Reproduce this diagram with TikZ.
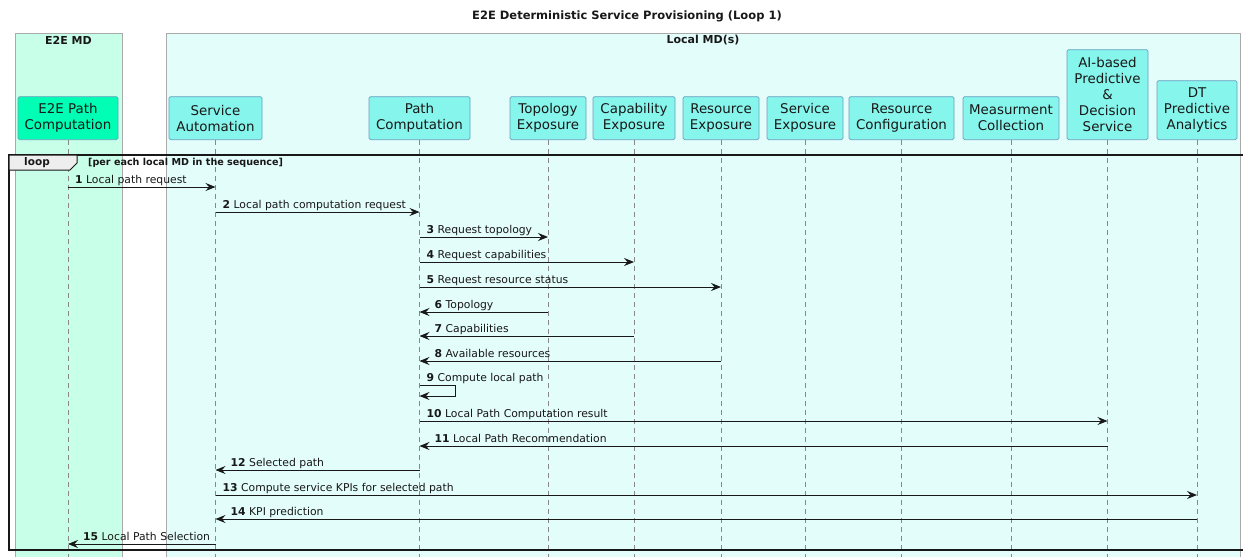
\documentclass[tikz,border=0pt]{standalone}
\usepackage{fontspec}
\setmainfont{DejaVu Sans}
\usetikzlibrary{arrows.meta}
\definecolor{grpA}{HTML}{C8FFE8}
\definecolor{grpB}{HTML}{E3FDFB}
\definecolor{partB}{HTML}{86F5EC}
\definecolor{partA}{HTML}{00FFB4}
\definecolor{partline}{HTML}{6A9FBF}
\definecolor{grpline}{HTML}{AAAAAA}
\definecolor{ink}{HTML}{181818}
\definecolor{lifegray}{HTML}{888888}
\definecolor{tabfill}{HTML}{EEEEEE}
\newcommand\msgR[5]{%
  \draw[msg] (#1 |- 0,#3) -- (#2 |- 0,#3);
  \node[lbl, anchor=base west, xshift=7pt, yshift=4pt] (l#4) at (#1 |- 0,#3) {\textbf{#4} #5};}
\newcommand\msgL[5]{%
  \draw[msg] (#1 |- 0,#3) -- (#2 |- 0,#3);
  \node[lbl, anchor=base west, xshift=15pt, yshift=4pt] (l#4) at (#2 |- 0,#3) {\textbf{#4} #5};}
\begin{document}
\begin{tikzpicture}[x=1pt,y=-1pt,
  part/.style={draw=partline, fill=partB, rounded corners=1.5pt, anchor=south, align=center,
    font=\fontsize{13.4}{16}\selectfont, inner sep=0pt, line width=0.7pt, text=ink},
  grp/.style={draw=grpline, line width=0.8pt},
  lifeline/.style={draw=lifegray, dash pattern=on 5pt off 4pt, line width=0.7pt},
  msg/.style={draw=ink, line width=0.9pt, -{Stealth[length=10pt,width=8pt,inset=3.5pt]}},
  lbl/.style={font=\fontsize{10.8}{12}\selectfont, inner sep=0pt, text=ink},
  hdr/.style={font=\fontsize{11}{12}\selectfont\bfseries, text=ink}]
\useasboundingbox (0,0) rectangle (1243,557);
\fill[white] (0,0) rectangle (1243,557);
% title
\node[font=\fontsize{11.5}{13}\selectfont\bfseries, text=ink] (title) at (627,16) {E2E Deterministic Service Provisioning (Loop 1)};
% groups
\path[grp, fill=grpA] (15,33) rectangle (122,565);
\path[grp, fill=grpB] (166,33) rectangle (1240,565);
\node[hdr] (g1) at (68.5,40) {E2E MD};
\node[hdr] (g2) at (703,40) {Local MD(s)};
% participants
\node[part, fill=partA, minimum width=100pt, minimum height=43pt] (e2e) at (68,140) {E2E Path\\Computation};
\node[part, minimum width=93pt, minimum height=43pt] (sa) at (215.5,140) {Service\\Automation};
\node[part, minimum width=101pt, minimum height=43pt] (pc) at (419.5,140) {Path\\Computation};
\node[part, minimum width=76pt, minimum height=43pt] (te) at (548,140) {Topology\\Exposure};
\node[part, minimum width=82pt, minimum height=43pt] (ce) at (634,140) {Capability\\Exposure};
\node[part, minimum width=76pt, minimum height=43pt] (re) at (721,140) {Resource\\Exposure};
\node[part, minimum width=76pt, minimum height=43pt] (se) at (805,140) {Service\\Exposure};
\node[part, minimum width=105pt, minimum height=43pt] (rc) at (901.5,140) {Resource\\Configuration};
\node[part, minimum width=96pt, minimum height=43pt] (mc) at (1011,140) {Measurment\\Collection};
\node[part, minimum width=81pt, minimum height=90pt] (ai) at (1107.5,140) {AI-based\\Predictive\\\&\\Decision\\Service};
\node[part, minimum width=80pt, minimum height=59pt] (dt) at (1197,140) {DT\\Predictive\\Analytics};
% lifelines
\foreach \p in {e2e,sa,pc,te,ce,re,se,rc,mc,ai,dt}
  \draw[lifeline] (\p.south) -- (\p.south |- 0,560);
% loop frame
\draw[draw=ink, line width=1.6pt] (9,155) rectangle (1252,550);
\draw[draw=ink, line width=1pt, fill=tabfill] (9,155) -- (77,155) -- (77,163) -- (70,170) -- (9,170) -- cycle;
\node[font=\fontsize{10.5}{12}\selectfont\bfseries, text=ink] (looptag) at (37,163) {loop};
\node[font=\fontsize{9.6}{10}\selectfont\bfseries, text=ink, anchor=west, inner sep=0pt] (guard) at (88,163) {[per each local MD in the sequence]};
% messages
\msgR{e2e}{sa}{187}{1}{Local path request}
\msgR{sa}{pc}{212}{2}{Local path computation request}
\msgR{pc}{te}{237}{3}{Request topology}
\msgR{pc}{ce}{262}{4}{Request capabilities}
\msgR{pc}{re}{287}{5}{Request resource status}
\msgL{te}{pc}{312}{6}{Topology}
\msgL{ce}{pc}{336}{7}{Capabilities}
\msgL{re}{pc}{361}{8}{Available resources}
\draw[msg] (pc |- 0,385) -- ++(36,0) -- ++(0,11) -- (pc |- 0,396);
\node[lbl, anchor=base west, xshift=7pt, yshift=4pt] (l9) at (pc |- 0,385) {\textbf{9} Compute local path};
\msgR{pc}{ai}{421}{10}{Local Path Computation result}
\msgL{ai}{pc}{446}{11}{Local Path Recommendation}
\msgL{pc}{sa}{470}{12}{Selected path}
\msgR{sa}{dt}{495}{13}{Compute service KPIs for selected path}
\msgL{dt}{sa}{519}{14}{KPI prediction}
\msgL{sa}{e2e}{544}{15}{Local Path Selection}
\end{tikzpicture}
\end{document}
